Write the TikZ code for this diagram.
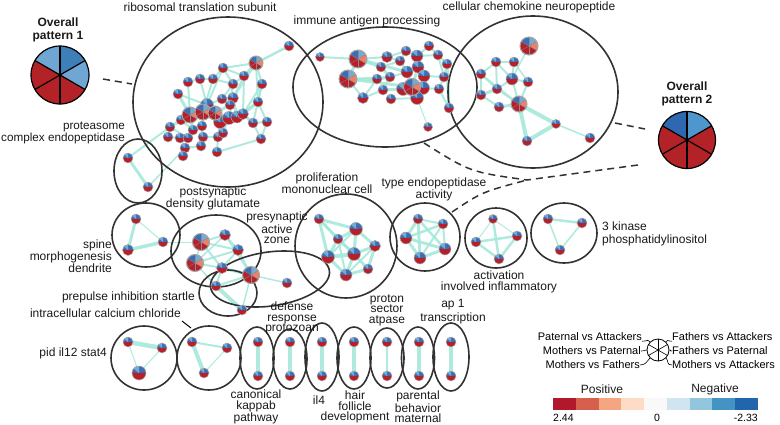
\documentclass[tikz,border=0pt]{standalone}
\usepackage{fontspec}
\setmainfont{Liberation Sans}
\usetikzlibrary{calc}
\pgfdeclarelayer{background}
\pgfdeclarelayer{mid}
\pgfsetlayers{background,mid,main}
\definecolor{nred}{RGB}{181,32,42}
\definecolor{nblue}{RGB}{58,111,181}
\definecolor{nlblue}{RGB}{116,170,214}
\definecolor{nsal}{RGB}{232,130,106}
\definecolor{ecol}{RGB}{160,232,216}
\definecolor{ellcol}{RGB}{50,50,50}
\definecolor{pA}{RGB}{63,127,185}
\definecolor{pB}{RGB}{111,166,211}
\definecolor{pC}{RGB}{46,104,176}
\definecolor{pD}{RGB}{77,151,205}
\definecolor{pR}{RGB}{178,34,38}
\definecolor{cb1}{HTML}{B2182B}
\definecolor{cb2}{HTML}{D6604D}
\definecolor{cb3}{HTML}{F4A582}
\definecolor{cb4}{HTML}{FDDBC7}
\definecolor{cb5}{HTML}{F9F9F9}
\definecolor{cb6}{HTML}{D1E5F0}
\definecolor{cb7}{HTML}{92C5DE}
\definecolor{cb8}{HTML}{4393C3}
\definecolor{cb9}{HTML}{2166AC}
\newcommand\piesec[3]{\fill[#3] (path picture bounding box.center) -- ++(#1:60pt) arc[start angle=#1,end angle=#2,radius=60pt] -- cycle;}
\tikzset{
  gn/.style={circle, inner sep=0pt, minimum size=#1+1pt, draw=black!30, line width=0.5pt, fill=nred,
    path picture={\piesec{5}{175}{nblue}\piesec{90}{140}{nlblue}}},
  gn/.default=9pt,
  gb/.style={circle, inner sep=0pt, minimum size=#1, draw=black!35, line width=1pt, fill=nred,
    path picture={\piesec{90}{150}{nblue}\piesec{30}{90}{nlblue}\piesec{-30}{30}{nsal}
      \foreach \a in {30,90,...,330} \draw[black!45,line width=0.3pt] (path picture bounding box.center) -- ++(\a:30pt);}},
  gb/.default=16pt,
  ed/.style={draw=ecol, line width=#1, line cap=round, opacity=0.85},
  ed/.default=1.5pt,
  ell/.style={draw=ellcol, line width=1.6pt},
  lab/.style={font=\fontsize{12}{#1}\selectfont, align=center, inner sep=0pt, text=black!90},
  lab/.default=12,
  lgd/.style={font=\fontsize{11}{12}\selectfont, inner sep=0pt},
  dashline/.style={draw=ellcol, line width=1.5pt, dash pattern=on 7pt off 5pt},
  piebox/.style={circle, draw=black, line width=1.2pt, minimum size=#1, inner sep=0pt},
  leader/.style={draw=black, line width=0.6pt},
}
\begin{document}
\begin{tikzpicture}[x=1pt,y=-1pt]
\useasboundingbox (0,0) rectangle (780,424);

% ---------- overall pies ----------
\node[lab=13, font=\bfseries\fontsize{12}{13}\selectfont] (t1) at (58,30) {Overall\\pattern 1};
\node[piebox=58pt, fill=pR, path picture={\piesec{30}{90}{pA}\piesec{-30}{30}{pB}\piesec{90}{150}{pB}
   \foreach \a in {30,90,...,330} \draw[black,line width=1.2pt] (path picture bounding box.center) -- ++(\a:30pt);}] (pie1) at (60,75) {};
\node[lab=13, font=\bfseries\fontsize{12}{13}\selectfont] (t2) at (687,94) {Overall\\pattern 2};
\node[piebox=57pt, fill=pR, path picture={\piesec{30}{90}{pD}\piesec{90}{150}{pC}
   \foreach \a in {30,90,...,330} \draw[black,line width=1.2pt] (path picture bounding box.center) -- ++(\a:30pt);}] (pie2) at (687,140) {};

% ---------- ribosomal ----------
\foreach \n/\x/\y/\s in {r1/289/46/9, r3/223/68/9, r4/188/82/9, r5/200/79/9, r6/213/79/9, r7/244/76/9,
  r8/233/84/9, r9/262/84/9, r10/178/94/9, r11/222/99/9, r12/233/98/10, r13/230/105/9, r14/258/102/9,
  r18/207/105/12, r19/220/122/12, r20/229/118/12, r21/237/117/11, r22/243/114/10, r23/181/120/9,
  r24/170/127/9, r25/168/137/9, r26/180/138/9, r27/188/138/9, r28/193/130/9, r29/202/126/9,
  r30/203/137/9, r31/218/137/9, r32/223/133/9, r33/253/123/9, r34/267/122/9, r35/261/139/9,
  r36/185/148/9, r37/201/146/9, r38/183/156/9, r39/217/152/9, p1/128/158/9, p2/148/187/9}
  \node[gn=\s pt] (\n) at (\x,\y) {};
\node[gb=14pt] (r2) at (256,63) {};
\node[gb=16pt] (r15) at (190,115) {};
\node[gb=16pt] (r16) at (203,112) {};
\node[gb=14pt] (r17) at (215,113) {};

% ---------- immune ----------
\foreach \n/\x/\y/\s in {i1/320/57/8, i4/387/57/10, i5/406/51/9, i6/417/56/11, i7/429/46/9, i8/438/55/9,
  i9/447/64/9, i10/400/61/9, i11/381/67/9, i12/407/72/11, i13/418/67/11, i14/424/76/11, i15/444/77/9,
  i16/377/79/9, i17/390/77/9, i18/383/90/9, i20/403/89/12, i21/423/88/12, i22/439/89/9, i23/417/98/12,
  i24/363/98/10, i25/391/99/9, i26/449/108/9, i27/428/127/8}
  \node[gn=\s pt] (\n) at (\x,\y) {};
\node[gb=18pt] (i2) at (358,59) {};
\node[gb=18pt] (i3) at (348,79) {};
\node[gb=17pt] (i19) at (412,87) {};

% ---------- chemokine ----------
\foreach \n/\x/\y/\s in {c2/496/62/9, c3/514/62/9, c4/481/74/9, c5/512/79/11, c6/528/82/9, c7/497/89/9,
  c8/481/95/9, c10/499/107/9, c11/556/124/8, c12/527/141/9, c13/590/138/9}
  \node[gn=\s pt] (\n) at (\x,\y) {};
\node[gb=18pt] (c1) at (529,46) {};
\node[gb=16pt] (c9) at (519,104) {};

% ---------- middle clusters ----------
\foreach \n/\x/\y/\s in {s1/136/219/9, s2/128/250/10, s3/163/242/9, ps3/225/235/10, ps4/238/250/10,
  ps5/222/268/10, ps6/216/286/9, pr2/287/283/9, pp1/242/310/9,
  m1/319/219/9, m2/356/229/12, m3/338/239/9, m4/375/246/10, m5/328/257/12, m6/354/254/12, m7/368/269/9, m8/346/275/11,
  t1n/418/219/9, t2n/443/224/9, t3n/406/238/11, t4n/445/249/11, t5n/420/258/11,
  a1/493/219/8, a2/517/236/9, a3/476/242/9, a4/499/259/9,
  k1/548/219/9, k2/582/223/9, k3/560/250/9}
  \node[gn=\s pt] (\n) at (\x,\y) {};
\node[gb=17pt] (ps1) at (201,242) {};
\node[gb=17pt] (ps2) at (195,263) {};
\node[gb=17pt] (pr1) at (251,275) {};

% ---------- bottom row ----------
\foreach \n/\x/\y/\s in {b1/128/342/9, b2/162/348/9, q1/192/342/9, q2/227/348/9, q3/204/373/9}
  \node[gn=\s pt] (\n) at (\x,\y) {};
\node[gn=13pt] (b3) at (139,373) {};
\foreach \x [count=\i] in {258,290,322,354,387,419,451} {
  \node[gn=9pt] (vt\i) at (\x,342) {};
  \node[gn=9pt] (vb\i) at (\x,376) {};
}

% ---------- edges ----------
\begin{pgfonlayer}{background}
\foreach \a/\b/\w in {r1/r2/2.5, r2/r7/3, r2/r9/2, r2/r14/2, r2/r3/2, r2/r12/2, r3/r6/2, r3/r8/2, r4/r5/2,
  r5/r6/2, r6/r8/2, r7/r8/2, r7/r12/2, r8/r11/2, r9/r14/2, r10/r18/2, r10/r15/3, r11/r18/2, r12/r13/2,
  r13/r17/3, r14/r22/3, r14/r34/2, r15/r16/4, r16/r17/4, r17/r19/3, r17/r20/3, r20/r21/3, r21/r22/3,
  r22/r33/3, r33/r34/2, r34/r35/2, r33/r35/2, r15/r23/3, r23/r24/3, r24/r25/2, r25/r26/2, r26/r27/2,
  r27/r28/2, r28/r29/2, r29/r16/3, r29/r30/2, r30/r31/2, r31/r32/2, r32/r20/2, r36/r37/2, r37/r29/2,
  r38/r36/2, r39/r31/2, r39/r35/2, r15/r28/3, r16/r19/3, r18/r16/3, r12/r21/3, r7/r22/2, r9/r22/2,
  r4/r15/2, r3/r18/2, r11/r13/2, r6/r16/2, r14/r21/2, r24/r27/2, r26/r36/2, r30/r37/2,
  r5/r18/2, r8/r13/2, r3/r7/2, r9/r33/2, r12/r20/2, r19/r31/2, r28/r23/2,
  p1/r24/2, p1/p2/3, p2/r36/1.5,
  i1/i2/2, i2/i3/3, i2/i11/3, i3/i16/3, i2/i4/2, i3/i24/2, i4/i10/2, i5/i6/2, i6/i7/2, i7/i8/2, i8/i9/2,
  i10/i11/2, i10/i12/2, i11/i17/3, i12/i13/3, i13/i6/2, i13/i14/3, i14/i15/2, i15/i9/2, i16/i17/3,
  i17/i18/2, i18/i20/3, i19/i20/3, i19/i21/3, i19/i23/3, i19/i12/3, i21/i22/2, i22/i26/2, i23/i25/2,
  i24/i18/2, i14/i21/3, i9/i26/3, i23/i27/1, i5/i10/2, i6/i8/2, i13/i19/3, i12/i17/2, i15/i22/2,
  i2/i12/3, i3/i19/3, i3/i17/2, i16/i24/2, i4/i5/2, i8/i15/2,
  c1/c5/1.5, c2/c3/2, c2/c4/2, c2/c5/2, c3/c5/2, c3/c6/1.5, c4/c7/2, c4/c8/2, c5/c6/2, c5/c7/2,
  c5/c9/2, c7/c8/3, c7/c9/2, c8/c10/2, c9/c10/3, c9/c11/4, c9/c12/4, c11/c12/4, c11/c13/1.5, c6/c9/2,
  c2/c7/2, c4/c9/1.5,
  s1/s2/3, s2/s3/3.5, s1/s3/1, s3/ps1/1, ps1/ps3/2, ps1/ps4/2, ps1/ps5/2, ps2/ps4/2, ps2/ps5/2,
  ps3/ps4/2, ps4/pr1/2, ps5/pr1/3, ps6/pr1/2, ps6/ps5/2, ps6/pp1/4, pr1/pp1/1.5, pr1/pr2/1.5,
  ps3/pr1/1.5, ps2/ps6/1.5, ps4/ps5/2, ps1/ps2/1.5, ps2/ps3/1.5,
  m1/m2/3, m1/m3/3, m1/m5/3, m2/m3/3, m2/m4/3, m2/m6/3, m3/m5/3, m3/m6/3, m4/m6/3, m4/m7/3,
  m5/m6/4, m5/m8/3, m6/m7/3, m6/m8/3, m7/m8/3, m2/m5/2, m3/m8/2, m1/m6/2, m4/m8/2,
  t1n/t2n/2, t1n/t3n/3, t1n/t4n/2.5, t1n/t5n/3, t2n/t3n/2.5, t2n/t4n/2, t2n/t5n/2, t3n/t4n/3,
  t3n/t5n/3, t4n/t5n/3,
  a1/a2/1, a1/a3/1, a1/a4/2.5, a2/a3/2.5, a2/a4/2.5, a3/a4/2.5,
  k1/k2/2.5, k1/k3/1.5, k2/k3/1.5,
  b1/b2/4.5, b1/b3/1, b2/b3/1, q1/q2/2, q1/q3/4, q2/q3/1}
  \draw[ed=\w pt] (\a.center) -- (\b.center);
\foreach \w [count=\i] in {4,4,4,4,2,4,4}
  \draw[ed=\w pt] (vt\i.center) -- (vb\i.center);
\end{pgfonlayer}

% ---------- enclosing ellipses ----------
\begin{pgfonlayer}{mid}
\draw[ell] (228,102) ellipse [x radius=95, y radius=85];
\draw[ell] (385,87) ellipse [x radius=92, y radius=60];
\draw[ell] (533,92) ellipse [x radius=85, y radius=76];
\draw[ell] (138,171) ellipse [x radius=24, y radius=32];
\draw[ell] (146,235) ellipse [x radius=34, y radius=32];
\draw[ell] (216,251) ellipse [x radius=45, y radius=36];
\draw[ell, rotate around={8:(270,279)}] (270,279) ellipse [x radius=60, y radius=27];
\draw[ell] (228,293) ellipse [x radius=29, y radius=23];
\draw[ell] (346,246) ellipse [x radius=51, y radius=52];
\draw[ell] (425,237) ellipse [x radius=35, y radius=34];
\draw[ell] (496,238) ellipse [x radius=31, y radius=30];
\draw[ell] (564,233) ellipse [x radius=33, y radius=30];
\draw[ell] (144,358) ellipse [x radius=33, y radius=32];
\draw[ell] (209,358) ellipse [x radius=32, y radius=32];
\draw[ell] (257,358) ellipse [x radius=17, y radius=31];
\draw[ell] (290,359) ellipse [x radius=17, y radius=30];
\draw[ell] (322,357) ellipse [x radius=17, y radius=34];
\draw[ell] (354,358) ellipse [x radius=17, y radius=31];
\draw[ell] (387,358) ellipse [x radius=17, y radius=30];
\draw[ell] (418,358) ellipse [x radius=16.5, y radius=31];
\draw[ell] (451,357) ellipse [x radius=18, y radius=34];
\end{pgfonlayer}

% ---------- dashed connectors ----------
\coordinate (d1a) at (103,79); \coordinate (d1b) at (132,84);
\coordinate (d2a) at (615,123); \coordinate (d2b) at (645,129);
\coordinate (d3a) at (424,143); \coordinate (d3b) at (452,212);
\coordinate (d3m) at (527,180); \coordinate (d3e) at (638,165);
\draw[dashline] (d1a) -- (d1b);
\draw[dashline] (d2a) -- (d2b);
\draw[dashline] (d3a) .. controls (470,172) .. (d3m) -- (d3e);
\draw[dashline] (d3b) .. controls (482,192) .. (d3m);

% ---------- labels ----------
\node[lab] (L1) at (200,7) {ribosomal translation subunit};
\node[lab] (L2) at (367,21) {immune antigen processing};
\node[lab] (L3) at (529,7) {cellular chemokine neuropeptide};
\node[lab, align=right, anchor=east, font=\fontsize{11.7}{12}\selectfont] (L4) at (125,133) {proteasome\\complex endopeptidase};
\node[lab=10.5] (L5) at (213,198) {postsynaptic\\density glutamate};
\node[lab=10.5] (L6) at (277,228) {presynaptic\\active\\zone};
\node[lab, align=right, anchor=east] (L7) at (112,256) {spine\\morphogenesis\\dendrite};
\node[lab=11] (L8) at (327,183) {proliferation\\mononuclear cell};
\node[lab] (L9) at (434,189) {type endopeptidase\\activity};
\node[lab=10.5] (L10) at (499,282) {activation\\involved inflammatory};
\node[lab=13, align=left, anchor=west] (L11) at (602,234) {3 kinase\\phosphatidylinositol};
\node[lab, anchor=east] (L12) at (195,297) {prepulse inhibition startle};
\node[lab, anchor=east] (L13) at (181,313) {intracellular calcium chloride};
\node[lab, anchor=east] (L14) at (107,353) {pid il12 stat4};
\node[lab=10.5] (L15) at (292,318) {defense\\response\\protozoan};
\node[lab=10.5] (L16) at (387,310) {proton\\sector\\atpase};
\node[lab=14] (L17) at (453,312) {ap 1\\transcription};
\node[lab=10.5] (L18) at (256,407) {canonical\\kappab\\pathway};
\node[lab] (L19) at (319,400) {il4};
\node[lab=10.5] (L20) at (355,407) {hair\\follicle\\development};
\node[lab=10.5] (L21) at (418,407) {parental\\behavior\\maternal};
\coordinate (lc1) at (182,321); \coordinate (lc2) at (191,328);
\draw[line width=1pt] (lc1) -- (lc2);

% ---------- legend ----------
\node[circle, draw=black, line width=0.8pt, minimum size=22pt, inner sep=0pt] (lw) at (658,350) {};
\foreach \a in {30,90,...,330} \draw[line width=0.6pt] (lw.center) -- (lw.\a);
\node[lgd, anchor=east] (g1) at (642,337) {Paternal vs Attackers};
\node[lgd, anchor=east] (g2) at (641,351) {Mothers vs Paternal};
\node[lgd, anchor=east] (g3) at (640,365) {Mothers vs Fathers};
\node[lgd, anchor=west] (g4) at (672,337) {Fathers vs Attackers};
\node[lgd, anchor=west] (g5) at (672,351) {Fathers vs Paternal};
\node[lgd, anchor=west] (g6) at (672,365) {Mothers vs Attackers};
\draw[leader] (g1.south east) .. controls +(6,0) and +(-3,-3) .. (lw.135);
\draw[leader] (g2.east) .. controls +(4,0) and +(-3,0) .. (lw.180);
\draw[leader] (g3.east) .. controls +(6,0) and +(-3,3) .. (lw.225);
\draw[leader] (g4.south west) .. controls +(-6,0) and +(3,-3) .. (lw.45);
\draw[leader] (g5.west) .. controls +(-4,0) and +(3,0) .. (lw.0);
\draw[leader] (g6.west) .. controls +(-6,0) and +(3,3) .. (lw.-45);

\foreach \c [count=\i] in {cb1,cb2,cb3,cb4,cb5,cb6,cb7,cb8,cb9}
  \fill[\c] ({553+(\i-1)*22.78},398) rectangle ({553+\i*22.78},410);
\node[lab] (pos) at (602,389) {Positive};
\node[lab] (neg) at (715,389) {Negative};
\node[font=\fontsize{10.5}{11}\selectfont, inner sep=0pt, anchor=west] (n1) at (553,418) {2.44};
\node[font=\fontsize{10.5}{11}\selectfont, inner sep=0pt] (n2) at (657,418) {0};
\node[font=\fontsize{10.5}{11}\selectfont, inner sep=0pt, anchor=east] (n3) at (758,418) {-2.33};
\end{tikzpicture}
\end{document}
